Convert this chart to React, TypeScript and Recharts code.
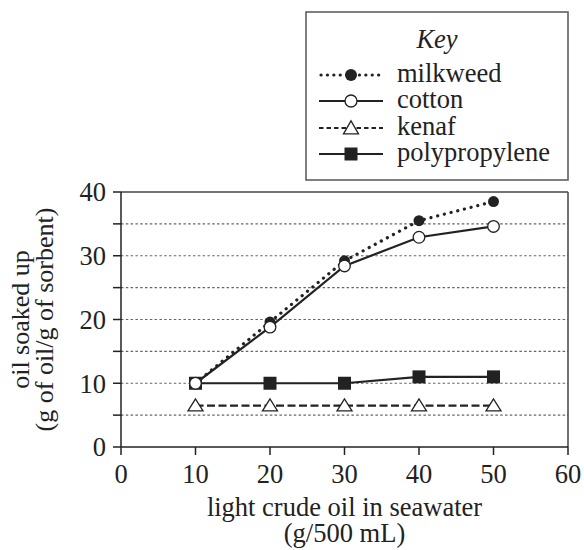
import React from "react";
import {
  LineChart,
  Line,
  XAxis,
  YAxis,
  ReferenceLine
} from "recharts";

const oilAdded = [10, 20, 30, 40, 50];
const milkweed = [10, 19.6, 29.2, 35.5, 38.5];
const cotton = [10, 18.8, 28.4, 32.9, 34.6];
const kenaf = [6.5, 6.5, 6.5, 6.5, 6.5];
const polypropylene = [10, 10, 10, 11, 11];

const xTicks = [0, 10, 20, 30, 40, 50, 60];
const yTicks = [0, 5, 10, 15, 20, 25, 30, 35, 40];
const gridValues = [5, 10, 15, 20, 25, 30, 35];

const data = oilAdded.map((x, i) => ({
  x,
  milkweed: milkweed[i],
  cotton: cotton[i],
  kenaf: kenaf[i],
  polypropylene: polypropylene[i]
}));

const FONT = "'Liberation Serif', 'Times New Roman', serif";
const FS = 26.5;
const INK = "#222";

const Triangle = (props: any) => {
  const { cx, cy, w = 7.5, h = 12 } = props;
  if (cx == null || cy == null) return null;
  return (
    <polygon
      points={`${cx},${cy - h * 0.55} ${cx - w},${cy + h * 0.45} ${cx + w},${cy + h * 0.45}`}
      fill="#fff"
      stroke={INK}
      strokeWidth={1.3}
    />
  );
};

const Square = (props: any) => {
  const { cx, cy } = props;
  if (cx == null || cy == null) return null;
  return <rect x={cx - 6.5} y={cy - 6.5} width={13} height={13} fill={INK} />;
};

const legendRows = ["milkweed", "cotton", "kenaf", "polypropylene"];

// key box drawn as its own svg on top of the chart
const KeyBox = () => {
  const rowY = [64, 90, 117, 143];
  const mx = 46;
  return (
    <svg
      width={264}
      height={170}
      style={{ position: "absolute", left: 305, top: 11, display: "block" }}
    >
      <rect x={1} y={1} width={262} height={168} fill="#fff" stroke="#555" strokeWidth={1.5} />
      <text x={132} y={37} textAnchor="middle" fontFamily={FONT} fontSize={FS} fontStyle="italic" fill={INK}>
        Key
      </text>
      {legendRows.map((name, i) => {
        const y = rowY[i];
        let line = null;
        let marker = null;
        if (name === "milkweed") {
          line = <line x1={16} x2={78} y1={y} y2={y} stroke={INK} strokeWidth={3.2} strokeDasharray="0.1 6.3" strokeLinecap="round" />;
          marker = <circle cx={mx} cy={y} r={6} fill={INK} />;
        } else if (name === "cotton") {
          line = <line x1={14} x2={78} y1={y} y2={y} stroke={INK} strokeWidth={2.2} />;
          marker = <circle cx={mx} cy={y} r={6} fill="#fff" stroke={INK} strokeWidth={1.3} />;
        } else if (name === "kenaf") {
          line = <line x1={14} x2={78} y1={y} y2={y} stroke={INK} strokeWidth={2} strokeDasharray="4.5 3" />;
          marker = <Triangle cx={mx} cy={y} w={7.5} h={13} />;
        } else {
          line = <line x1={14} x2={78} y1={y} y2={y} stroke={INK} strokeWidth={2.2} />;
          marker = <Square cx={mx} cy={y} />;
        }
        return (
          <g key={name}>
            {line}
            {marker}
            <text x={92} y={y + 6.5} fontFamily={FONT} fontSize={FS} fill={INK}>
              {name}
            </text>
          </g>
        );
      })}
    </svg>
  );
};

const XLabel = (props: any) => {
  const { viewBox } = props;
  const cx = viewBox.x + viewBox.width / 2;
  return (
    <text textAnchor="middle" fontFamily={FONT} fontSize={FS} fill={INK}>
      <tspan x={cx} y={viewBox.y + 69}>light crude oil in seawater</tspan>
      <tspan x={cx} y={viewBox.y + 95}>(g/500 mL)</tspan>
    </text>
  );
};

const YLabel = (props: any) => {
  const { viewBox } = props;
  const cy = viewBox.y + viewBox.height / 2;
  return (
    <g transform={`translate(0, ${cy}) rotate(-90)`}>
      <text textAnchor="middle" fontFamily={FONT} fontSize={26} fill={INK}>
        <tspan x={0} y={29}>oil soaked up</tspan>
        <tspan x={0} y={53}>(g of oil/g of sorbent)</tspan>
      </text>
    </g>
  );
};

const OilChart = () => {
  return (
    <div style={{ position: "absolute", left: 0, top: 0, width: 584, height: 550, background: "#fff" }}>
      <LineChart
        width={584}
        height={550}
        data={data}
        margin={{ top: 192, right: 16, left: 0, bottom: 0 }}
      >
        {gridValues.map((v) => (
          <ReferenceLine key={v} y={v} stroke="#666" strokeWidth={1.2} strokeDasharray="2.5 2.3" />
        ))}
        <ReferenceLine y={40} stroke="#444" strokeWidth={1.5} />
        <ReferenceLine x={60} stroke="#444" strokeWidth={1.5} />
        <XAxis
          dataKey="x"
          type="number"
          domain={[0, 60]}
          ticks={xTicks}
          height={103}
          tickSize={8}
          tickMargin={9}
          stroke={INK}
          axisLine={{ stroke: INK, strokeWidth: 1.5 }}
          tickLine={{ stroke: INK, strokeWidth: 1.5 }}
          tick={{ fill: INK, fontFamily: FONT, fontSize: FS }}
          label={XLabel}
        />
        <YAxis
          type="number"
          domain={[0, 40]}
          ticks={yTicks}
          width={121}
          tickSize={8}
          tickMargin={7}
          interval={0}
          stroke={INK}
          axisLine={{ stroke: INK, strokeWidth: 1.5 }}
          tickLine={{ stroke: INK, strokeWidth: 1.5 }}
          tick={{ fill: INK, fontFamily: FONT, fontSize: FS }}
          tickFormatter={(v: number) => (v % 10 === 0 ? String(v) : "")}
          label={YLabel}
        />
        <Line
          dataKey="kenaf"
          stroke={INK}
          strokeWidth={2.2}
          strokeDasharray="8 3.5"
          dot={<Triangle w={7.5} h={12} />}
          isAnimationActive={false}
        />
        <Line
          dataKey="polypropylene"
          stroke={INK}
          strokeWidth={2.2}
          dot={<Square />}
          isAnimationActive={false}
        />
        <Line
          dataKey="milkweed"
          stroke={INK}
          strokeWidth={3.2}
          strokeDasharray="0.1 6.8"
          strokeLinecap="round"
          dot={{ r: 5.5, fill: INK, stroke: "none" }}
          isAnimationActive={false}
        />
        <Line
          dataKey="cotton"
          stroke={INK}
          strokeWidth={2.2}
          dot={{ r: 5.8, fill: "#fff", stroke: INK, strokeWidth: 1.3, strokeDasharray: "" }}
          isAnimationActive={false}
        />
      </LineChart>
      <KeyBox />
    </div>
  );
};

export default function App() {
  return <OilChart />;
}
